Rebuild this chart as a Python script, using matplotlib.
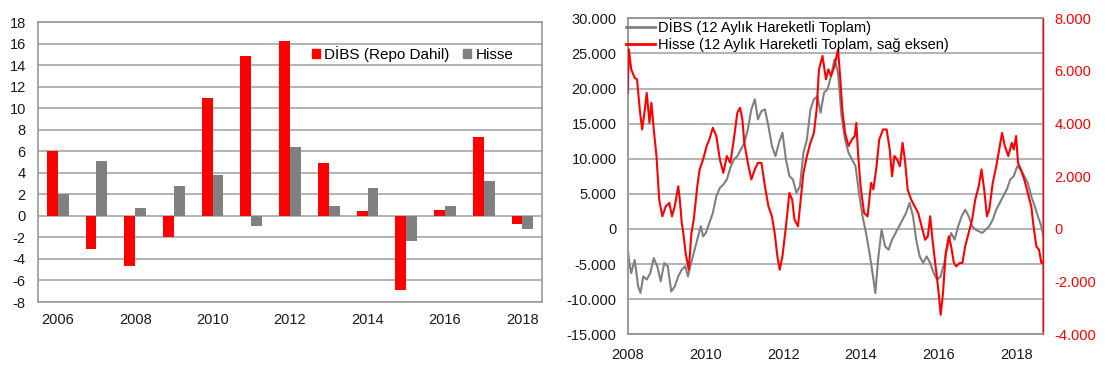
import matplotlib
matplotlib.use("Agg")
import matplotlib.pyplot as plt
from matplotlib.ticker import FuncFormatter
from matplotlib.patches import Patch
from matplotlib.lines import Line2D
import numpy as np

plt.rcParams['font.family'] = ['Liberation Sans', 'DejaVu Sans']
plt.rcParams['font.size'] = 10.5
plt.rcParams['axes.unicode_minus'] = False

RED = '#ff0000'
GRAY = '#808080'
GRID = '#a6a6a6'

# Left panel: yearly flows
years = list(range(2006, 2019))
dibs_yearly = [6.0, -3.1, -4.7, -2.0, 10.9, 14.8, 16.2, 4.9, 0.45, -6.9, 0.55, 7.3, -0.8]
hisse_yearly = [2.0, 5.1, 0.7, 2.8, 3.8, -0.9, 6.4, 0.9, 2.6, -2.3, 0.9, 3.25, -1.25]
bar_labels = ['DİBS (Repo Dahil)', 'Hisse']

# Right panel: 12-month moving totals
dibs_t = [2008.00, 2008.04, 2008.09, 2008.18, 2008.27, 2008.33, 2008.40, 2008.49, 2008.58, 2008.67,
          2008.76, 2008.85, 2008.94, 2009.03, 2009.12, 2009.21, 2009.30, 2009.39, 2009.48, 2009.55,
          2009.61, 2009.70, 2009.79, 2009.88, 2009.94, 2010.01, 2010.10, 2010.19, 2010.28, 2010.37,
          2010.46, 2010.55, 2010.64, 2010.73, 2010.82, 2010.91, 2011.00, 2011.09, 2011.18, 2011.27,
          2011.35, 2011.44, 2011.53, 2011.62, 2011.71, 2011.80, 2011.89, 2011.98, 2012.07, 2012.16,
          2012.25, 2012.34, 2012.43, 2012.52, 2012.61, 2012.70, 2012.79, 2012.88, 2012.96, 2013.05,
          2013.14, 2013.23, 2013.32, 2013.41, 2013.50, 2013.59, 2013.68, 2013.77, 2013.86, 2013.95,
          2014.04, 2014.13, 2014.22, 2014.31, 2014.37, 2014.44, 2014.53, 2014.62, 2014.71, 2014.80,
          2014.89, 2014.98, 2015.07, 2015.16, 2015.25, 2015.34, 2015.42, 2015.51, 2015.60, 2015.69,
          2015.78, 2015.87, 2015.96, 2016.05, 2016.14, 2016.23, 2016.32, 2016.41, 2016.50, 2016.59,
          2016.68, 2016.77, 2016.86, 2016.95, 2017.03, 2017.12, 2017.21, 2017.30, 2017.39, 2017.48,
          2017.57, 2017.66, 2017.75, 2017.84, 2017.93, 2018.02, 2018.11, 2018.20, 2018.29, 2018.38,
          2018.47, 2018.55, 2018.64, 2018.69]
dibs_vals = [-2700, -4850, -6300, -4400, -8200, -9100, -6750, -7200, -6300, -4150,
             -5300, -7450, -4850, -5300, -8900, -8200, -6750, -5800, -5300, -6750,
             -5300, -3400, -1500, 400, -1050, -570, 860, 2280, 4660, 5850,
             6330, 7040, 8700, 9900, 10370, 11320, 12270, 14180, 17030, 18460,
             15600, 16800, 17030, 14650, 11800, 10370, 12270, 13700, 9900, 7520,
             7040, 5140, 6090, 10850, 12750, 17030, 18460, 18930, 16560, 19400,
             19900, 21790, 24170, 22270, 16080, 12750, 10850, 9900, 8940, 5140,
             1810, -570, -3430, -6750, -9130, -4380, -100, -2470, -2950, -1520,
             -570, 380, 1330, 2280, 3710, 1810, -1520, -3900, -4850, -3900,
             -4850, -6280, -7230, -6750, -4850, -2470, -570, -1520, 380, 1810,
             2760, 1810, 380, -100, -330, -570, -100, 380, 1330, 2760,
             3710, 4660, 5610, 7040, 7520, 8940, 8470, 7520, 6560, 4660,
             3240, 1810, 380, -1050]

hisse_t = [2008.00, 2008.03, 2008.09, 2008.18, 2008.24, 2008.31, 2008.37, 2008.42, 2008.49, 2008.56,
           2008.61, 2008.67, 2008.74, 2008.81, 2008.89, 2008.98, 2009.07, 2009.14, 2009.21, 2009.30,
           2009.34, 2009.39, 2009.43, 2009.49, 2009.57, 2009.64, 2009.70, 2009.79, 2009.85, 2009.94,
           2010.03, 2010.10, 2010.19, 2010.28, 2010.37, 2010.46, 2010.55, 2010.64, 2010.73, 2010.82,
           2010.89, 2010.95, 2011.00, 2011.09, 2011.18, 2011.27, 2011.35, 2011.44, 2011.53, 2011.62,
           2011.71, 2011.78, 2011.85, 2011.91, 2011.98, 2012.07, 2012.16, 2012.23, 2012.29, 2012.38,
           2012.45, 2012.52, 2012.61, 2012.70, 2012.79, 2012.86, 2012.92, 2013.01, 2013.10, 2013.16,
           2013.23, 2013.32, 2013.41, 2013.47, 2013.52, 2013.59, 2013.68, 2013.77, 2013.84, 2013.88,
           2013.93, 2013.99, 2014.08, 2014.17, 2014.26, 2014.32, 2014.40, 2014.47, 2014.57, 2014.66,
           2014.74, 2014.80, 2014.86, 2014.93, 2015.00, 2015.07, 2015.13, 2015.20, 2015.29, 2015.38,
           2015.47, 2015.56, 2015.65, 2015.72, 2015.78, 2015.84, 2015.92, 2015.99, 2016.05, 2016.11,
           2016.18, 2016.26, 2016.32, 2016.39, 2016.45, 2016.54, 2016.61, 2016.68, 2016.77, 2016.86,
           2016.94, 2017.03, 2017.10, 2017.17, 2017.24, 2017.30, 2017.39, 2017.48, 2017.57, 2017.63,
           2017.70, 2017.79, 2017.88, 2017.93, 2017.99, 2018.04, 2018.11, 2018.20, 2018.29, 2018.38,
           2018.44, 2018.51, 2018.58, 2018.64, 2018.69]
hisse_vals = [5170, 6820, 6060, 5740, 5680, 4540, 3780, 4290, 5170, 4030,
              4790, 3780, 2770, 1120, 480, 860, 990, 480, 860, 1620,
              1120, 230, -150, -910, -1550, -150, 360, 1620, 2260, 2640,
              3150, 3400, 3840, 3530, 2640, 2130, 2770, 2510, 3400, 4410,
              4600, 4160, 3270, 2510, 1880, 2260, 2510, 2510, 1620, 860,
              480, -150, -1040, -1550, -1040, 100, 1370, 1120, 360, 100,
              1120, 2130, 2770, 3270, 3650, 4540, 6060, 6570, 5680, 6060,
              5810, 6190, 6820, 5680, 4540, 3650, 3150, 3400, 3530, 4030,
              2770, 1620, 610, 480, 1750, 1500, 2380, 3400, 3780, 3780,
              3020, 2000, 2770, 2640, 2380, 3270, 2640, 1500, 1120, 860,
              610, 100, -410, -280, 480, -410, -1420, -2310, -3260, -2430,
              -910, -280, -660, -1290, -1420, -1290, -1290, -660, -150, 360,
              1120, 1620, 2260, 1500, 480, 740, 1750, 2380, 3150, 3650,
              3150, 2770, 3270, 3020, 3530, 2510, 2260, 1880, 1370, 860,
              100, -660, -790, -1290, -1290]
line_labels = ['DİBS (12 Aylık Hareketli Toplam)', 'Hisse (12 Aylık Hareketli Toplam, sağ eksen)']

fig = plt.figure(figsize=(11.05, 3.71), dpi=100)

# ---- left chart ----
ax1 = fig.add_axes([38.3 / 1105, (371 - 302) / 371, 503.5 / 1105, 280 / 371])
x = np.arange(len(years))
w = 0.28
ax1.bar(x - w / 2, dibs_yearly, w, color=RED, zorder=3)
ax1.bar(x + w / 2, hisse_yearly, w, color=GRAY, zorder=3)
ax1.set_xlim(-0.5, len(years) - 0.5)
ax1.set_ylim(-8, 18)
ax1.set_yticks(range(-8, 19, 2))
ax1.set_xticks(x[::2])
ax1.set_xticklabels([str(y) for y in years[::2]])
ax1.grid(axis='y', color=GRID, linewidth=1.2, zorder=0)
ax1.tick_params(length=0, colors='#1a1a1a')
ax1.tick_params(axis='x', pad=8)
ax1.tick_params(axis='y', pad=9)
for s in ax1.spines.values():
    s.set_color('#999999')
    s.set_linewidth(1.2)
handles = [Patch(color=RED), Patch(color=GRAY)]
ax1.legend(handles, bar_labels, ncol=2, frameon=False, loc='center left',
           bbox_to_anchor=((312 - 38.3) / 503.5, (302 - 54) / 280),
           borderpad=0, borderaxespad=0, handlelength=0.5, handleheight=0.5,
           handletextpad=0.3, columnspacing=0.9, fontsize=11)

# ---- right chart ----
ax2 = fig.add_axes([627.7 / 1105, (371 - 334.3) / 371, 415.6 / 1105, 316 / 371])
ax3 = ax2.twinx()
ax2.plot(dibs_t, dibs_vals, color=GRAY, linewidth=1.5, zorder=3)
ax3.plot(hisse_t, hisse_vals, color=RED, linewidth=1.5, zorder=3)
ax2.set_xlim(2008, 2018.69)
ax2.set_ylim(-15000, 30000)
ax3.set_ylim(-4000, 8000)
ax2.set_yticks(range(-15000, 30001, 5000))
ax3.set_yticks(range(-4000, 8001, 2000))
ax2.set_xticks(range(2008, 2019, 2))
fmt = FuncFormatter(lambda v, p: f"{int(v):,}".replace(",", "."))
ax2.yaxis.set_major_formatter(fmt)
ax3.yaxis.set_major_formatter(fmt)
ax2.grid(axis='y', color=GRID, linewidth=1.2, zorder=0)
ax2.tick_params(length=0, colors='#1a1a1a')
ax2.tick_params(axis='x', pad=10)
ax2.tick_params(axis='y', pad=8)
ax3.tick_params(length=0, colors=RED, pad=8)
for a in (ax2, ax3):
    for s in a.spines.values():
        s.set_color('#999999')
        s.set_linewidth(1.2)
ax3.spines['right'].set_color(RED)
ax3.spines['right'].set_linewidth(1.0)
lh = [Line2D([], [], color=GRAY, linewidth=2), Line2D([], [], color=RED, linewidth=2)]
ax3.legend(lh, line_labels, frameon=False, loc='upper left',
           bbox_to_anchor=(-0.005, 0.998), borderpad=0, borderaxespad=0,
           handlelength=2.0, handletextpad=0.2, labelspacing=0.2, fontsize=10.5)

fig.savefig('out.png', dpi=100)
